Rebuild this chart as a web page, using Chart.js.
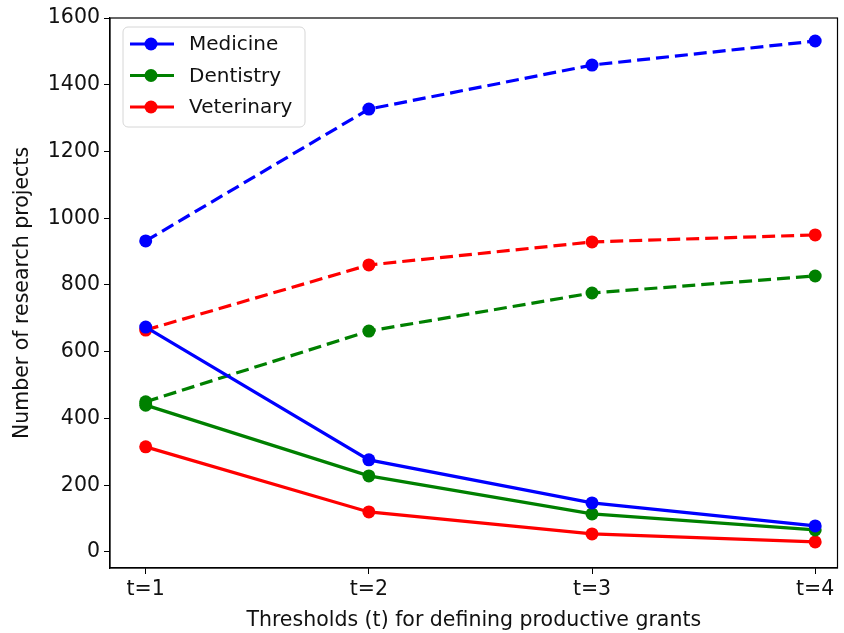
<!DOCTYPE html>
<html lang="en">
<head>
<meta charset="UTF-8">
<title>Research projects by threshold</title>
<style>
  html, body { margin: 0; padding: 0; background: #fff; }
  #wrap { width: 844px; height: 633px; }
</style>
</head>
<body>
<div id="wrap"><canvas id="chart" width="844" height="633"></canvas></div>
<script src="https://cdn.jsdelivr.net/npm/chart.js@4.4.7/dist/chart.umd.min.js"></script>
<script>
// categories and values
const categories = ['t=1', 't=2', 't=3', 't=4'];
const yTicks = [0, 200, 400, 600, 800, 1000, 1200, 1400, 1600];

// solid lines
const medicine = [674, 276, 147, 78];
const dentistry = [440, 228, 114, 66];
const veterinary = [315, 120, 54, 30];
// dashed lines
const medicineDashed = [932, 1327, 1459, 1531];
const dentistryDashed = [450, 662, 776, 827];
const veterinaryDashed = [665, 860, 929, 950];

const BLUE = '#0000ff', GREEN = '#008000', RED = '#ff0000';
const FONT = 'DejaVu Sans';
const FS = 20.5;

function pts(arr) {
  return arr.map((v, i) => ({ x: i, y: v }));
}

function series(label, arr, color, dashed) {
  return {
    label: label,
    data: pts(arr),
    borderColor: color,
    backgroundColor: color,
    borderWidth: 3.2,
    borderDash: dashed ? [13, 6] : [],
    pointRadius: 6.5,
    pointHoverRadius: 6.5,
    pointBorderWidth: 0,
    tension: 0,
    inLegend: !dashed
  };
}

// matplotlib-style frame + legend drawn inside the axes
const framePlugin = {
  id: 'frame',
  afterDatasetsDraw(chart) {
    const { ctx, chartArea: a } = chart;
    ctx.save();
    ctx.strokeStyle = '#000';
    ctx.lineWidth = 1.2;
    ctx.strokeRect(a.left, a.top, a.right - a.left, a.bottom - a.top);

    // legend
    const items = chart.data.datasets.filter(d => d.inLegend);
    const x0 = 123, y0 = 27, w = 182, h = 100, r = 5;
    ctx.beginPath();
    ctx.moveTo(x0 + r, y0);
    ctx.arcTo(x0 + w, y0, x0 + w, y0 + h, r);
    ctx.arcTo(x0 + w, y0 + h, x0, y0 + h, r);
    ctx.arcTo(x0, y0 + h, x0, y0, r);
    ctx.arcTo(x0, y0, x0 + w, y0, r);
    ctx.closePath();
    ctx.fillStyle = 'rgba(255,255,255,0.8)';
    ctx.fill();
    ctx.strokeStyle = '#d6d6d6';
    ctx.lineWidth = 1;
    ctx.stroke();

    ctx.font = '20px "' + FONT + '"';
    ctx.textBaseline = 'middle';
    items.forEach((d, i) => {
      const y = 44 + i * 31.5;
      ctx.strokeStyle = d.borderColor;
      ctx.lineWidth = 3.2;
      ctx.beginPath();
      ctx.moveTo(130, y);
      ctx.lineTo(174, y);
      ctx.stroke();
      ctx.fillStyle = d.borderColor;
      ctx.beginPath();
      ctx.arc(151, y, 6.5, 0, Math.PI * 2);
      ctx.fill();
      ctx.fillStyle = '#111';
      ctx.fillText(d.label, 189, y + 1);
    });
    ctx.restore();
  }
};

new Chart(document.getElementById('chart'), {
  type: 'line',
  data: {
    datasets: [
      series('Medicine', medicine, BLUE, false),
      series('Dentistry', dentistry, GREEN, false),
      series('Veterinary', veterinary, RED, false),
      series('Medicine (dashed)', medicineDashed, BLUE, true),
      series('Dentistry (dashed)', dentistryDashed, GREEN, true),
      series('Veterinary (dashed)', veterinaryDashed, RED, true)
    ]
  },
  options: {
    responsive: false,
    animation: false,
    layout: { padding: { top: 18, right: 6, left: 10, bottom: 0 } },
    plugins: {
      legend: { display: false },
      tooltip: { enabled: false }
    },
    scales: {
      x: {
        type: 'linear',
        min: -0.16,
        max: 3.1,
        afterBuildTicks: s => { s.ticks = categories.map((c, i) => ({ value: i })); },
        afterFit: s => { s.height = 65; },
        ticks: {
          callback: v => categories[v],
          color: '#111',
          font: { family: FONT, size: FS },
          padding: 3,
          maxRotation: 0
        },
        grid: { drawOnChartArea: false, drawTicks: true, tickLength: 6, color: '#000' },
        border: { display: true, color: '#000', width: 1.2 },
        title: {
          display: true,
          text: 'Thresholds (t) for defining productive grants',
          color: '#111',
          font: { family: FONT, size: FS },
          padding: { top: 0, bottom: 0 }
        }
      },
      y: {
        min: -48,
        max: 1600,
        afterBuildTicks: s => { s.ticks = yTicks.map(v => ({ value: v })); },
        afterFit: s => { s.width = 100; },
        ticks: {
          callback: v => String(v),
          color: '#111',
          font: { family: FONT, size: FS },
          padding: 4
        },
        grid: { drawOnChartArea: false, drawTicks: true, tickLength: 6, color: '#000' },
        border: { display: true, color: '#000', width: 1.2 },
        title: {
          display: true,
          text: 'Number of research projects',
          color: '#111',
          font: { family: FONT, size: FS },
          padding: { top: 0, bottom: 2 }
        }
      }
    }
  },
  plugins: [framePlugin]
});
</script>
</body>
</html>
